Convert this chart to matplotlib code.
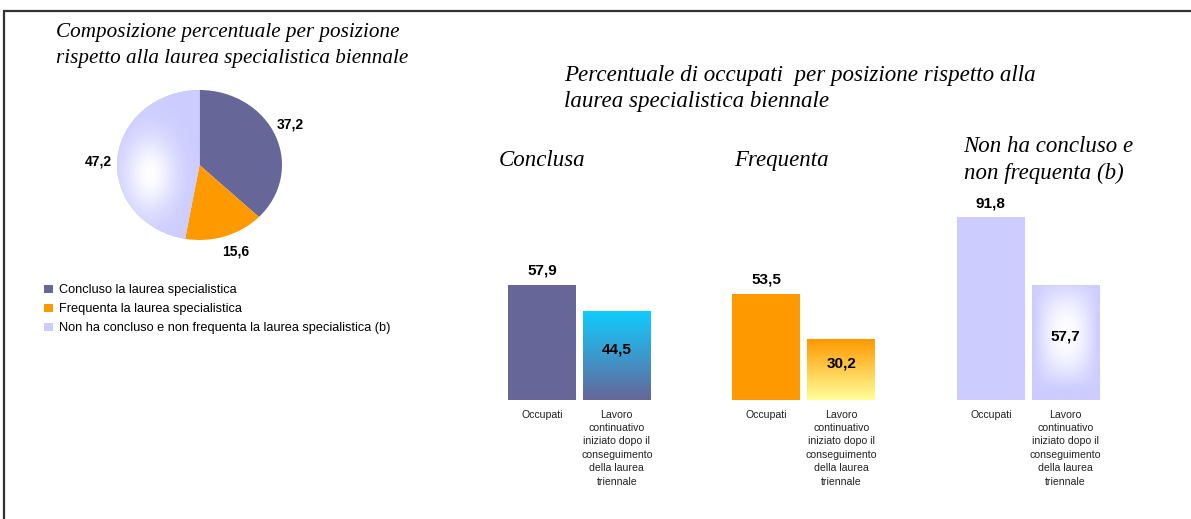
import numpy as np
import matplotlib
matplotlib.use("Agg")
import matplotlib.pyplot as plt
from matplotlib.colors import to_rgb
from matplotlib.patches import Rectangle, Patch

# pie data
pie_labels = ["Concluso la laurea specialistica",
              "Frequenta la laurea specialistica",
              "Non ha concluso e non frequenta la laurea specialistica (b)"]
pie_values = [37.2, 15.6, 47.2]
pie_colors = ["#666699", "#FF9900", "#CCCCFF"]

# bar data
groups = ["Conclusa", "Frequenta", "Non ha concluso e\nnon frequenta (b)"]
occupati = [57.9, 53.5, 91.8]
lavoro = [44.5, 30.2, 57.7]
bar_names = ["Occupati",
             "Lavoro\ncontinuativo\niniziato dopo il\nconseguimento\ndella laurea\ntriennale"]
occ_colors = ["#666699", "#FF9900", "#CCCCFF"]

W, H = 1191, 519
fig = plt.figure(figsize=(W / 100, H / 100), dpi=100)
fig.patch.set_facecolor("white")

sans = "Liberation Sans"
serif = "Liberation Serif"


def fx(px):
    return px / W


def fy(py):
    return 1 - py / H


def fmt(v):
    return "{:.1f}".format(v).replace(".", ",")


# frame (only left and top edges visible)
fig.add_artist(Rectangle((fx(4), -0.2), 1.2, fy(11) + 0.2, transform=fig.transFigure,
                         fill=False, lw=1.6, edgecolor="#333333"))

# ---- pie ----
axp = fig.add_axes([fx(117), fy(240), fx(165), 150 / H])
wedges, _ = axp.pie(pie_values, colors=pie_colors, startangle=90, counterclock=False)
axp.set_aspect("auto")

# labels around the pie
for w, v in zip(wedges, pie_values):
    mid = np.deg2rad((w.theta1 + w.theta2) / 2 + 3)
    r = 1.23
    axp.text(r * np.cos(mid), r * np.sin(mid), fmt(v), ha="center", va="center",
             fontsize=10, fontweight="bold", family=sans)

# white glow on the third slice
gx, gy = np.meshgrid(np.linspace(-1, 1, 300), np.linspace(1, -1, 300))
t = np.exp(-((gx + 0.6) / 0.3) ** 2 - ((gy + 0.12) / 0.5) ** 2)
base = np.array(to_rgb(pie_colors[2]))
img = base * (1 - t[..., None]) + t[..., None]
im = axp.imshow(img, extent=(-1, 1, -1, 1), aspect="auto", zorder=2)
im.set_clip_path(wedges[2])
axp.set_xlim(-1, 1)
axp.set_ylim(-1, 1)

fig.text(fx(56), fy(32), "Composizione percentuale per posizione", family=serif,
         style="italic", fontsize=15.2, va="center")
fig.text(fx(56), fy(58), "rispetto alla laurea specialistica biennale", family=serif,
         style="italic", fontsize=15.2, va="center")

# legend
handles = [Patch(facecolor=c, edgecolor="none") for c in pie_colors]
fig.legend(handles, pie_labels, loc="upper left", bbox_to_anchor=(fx(38), fy(278)),
           frameon=False, prop=dict(family=sans, size=9.2), handlelength=0.65,
           handleheight=0.65, handletextpad=0.5, labelspacing=0.55, borderpad=0)

# ---- bars ----
fig.text(fx(564), fy(76), "Percentuale di occupati  per posizione rispetto alla",
         family=serif, style="italic", fontsize=16.6, va="center")
fig.text(fx(564), fy(102), "laurea specialistica biennale", family=serif,
         style="italic", fontsize=16.6, va="center")

ax = fig.add_axes([fx(487.6), fy(400), 632.4 / W, 199 / H])
ax.axis("off")
step = 3.3
off = 1.1


def vgrad(c_top, c_bot, n=200):
    a = np.array(to_rgb(c_top))
    b = np.array(to_rgb(c_bot))
    s = np.linspace(0, 1, n)[:, None, None]
    return a * (1 - s) + b * s


def cgrad(c_edge, n=200):
    u, v = np.meshgrid(np.linspace(-1, 1, n), np.linspace(-1, 1, n))
    v = v + 0.15
    t = np.clip((1 - u ** 2) * (1 - v ** 2), 0, 1) ** 1.3
    e = np.array(to_rgb(c_edge))
    return e * (1 - t[..., None]) + t[..., None]


lav_imgs = [vgrad("#11CCFF", "#666699"), vgrad("#FF9900", "#FFFF99"), cgrad("#CCCCFF")]

for g in range(len(groups)):
    x0 = g * step
    ax.bar(x0, occupati[g], width=1, align="edge", color=occ_colors[g], zorder=2)
    ax.annotate(fmt(occupati[g]), (x0 + 0.5, occupati[g]), xytext=(0, 10),
                textcoords="offset points", ha="center", va="center",
                fontsize=11, fontweight="bold", family=sans)
    x1 = x0 + off
    ax.imshow(lav_imgs[g], extent=(x1, x1 + 1, 0, lavoro[g]), aspect="auto", zorder=2)
    ax.text(x1 + 0.5, lavoro[g] / 2 + 3, fmt(lavoro[g]), ha="center", va="center",
            fontsize=11, fontweight="bold", family=sans, zorder=3)
    for xx, name in zip([x0, x1], bar_names):
        ax.annotate(name, (xx + 0.5, 0), xytext=(0, -7), textcoords="offset points",
                    ha="center", va="top", fontsize=7.6, family=sans, linespacing=1.42,
                    color="#222222")
    ax.text(x0 + [-0.13, 0.03, 0.1][g], 120.6, groups[g], family=serif, style="italic",
            fontsize=16.5, va="center", ha="left", linespacing=1.3)

ax.set_xlim(-0.3, 9.0)
ax.set_ylim(0, 100)

fig.savefig("out.png", dpi=100)
